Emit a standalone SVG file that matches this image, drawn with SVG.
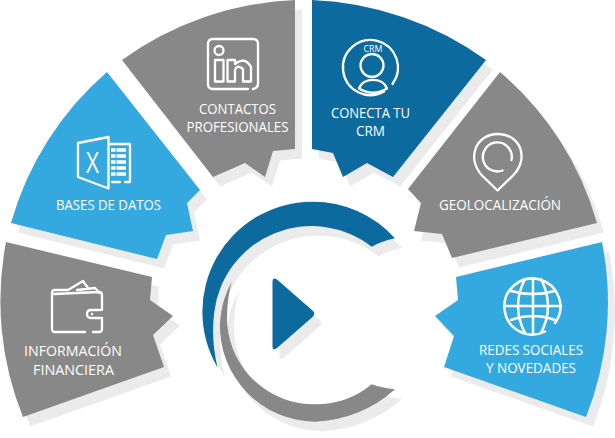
<svg xmlns="http://www.w3.org/2000/svg" width="615" height="438" viewBox="0 0 615 438">
<style>
.t{font-family:"Open Sans","Liberation Sans",sans-serif;font-size:15px;fill:#fff;text-anchor:middle}
.i{fill:none;stroke:#fff;stroke-width:2.300;stroke-linecap:round;stroke-linejoin:round}
.s{fill:#ebebeb}
.g{fill:#888888}.b{fill:#0c6a9e}.l{fill:#34a9df}
</style>
<defs>
<path id="p1" d="M6 242L152 277L150 300L173 316L153 335L164 367L23 417A310 310 0 0 1 6 242Z"/>
<path id="p2" d="M107 72L200 190L187 203L193 231L166 235L157 259L11 223A310 310 0 0 1 107 72Z"/>
<path id="p3" d="M122 60A320 320 0 0 1 295 0L295 149L273 151L265 177L245 163L213 177Z"/>
<path id="p4" d="M312 0A320 320 0 0 1 486 60L393 177L367 163L343 177L333 153L312 149Z"/>
<path id="p5" d="M500 72A310 310 0 0 1 597 223L452 258L442 234L414 231L421 203L408 189Z"/>
<path id="p6" d="M602 242A310 310 0 0 1 586 417L444 367L454 336L435 316L458 300L456 277Z"/>
<path id="ringb" d="M395 238.300A110 110 0 0 0 311.700 201.700A110 110 0 0 0 217.700 367.700A150 150 0 0 1 214.300 311.700A98 98 0 0 1 371.700 246.700Q382 241 395 238.300Z"/>
<path id="ringg" d="M231.700 281.700A96 96 0 0 0 220 322A96 96 0 0 0 315 421.700A125 125 0 0 0 395 389.300Q382 388 371.700 384.300A87 87 0 0 1 315 404.300A87 87 0 0 1 227.300 325Q226 303 231.700 281.700Z"/>
<path id="tri" d="M272.500 282Q272.500 276.500 277 279.500L312.500 310.500Q316 313.500 312.500 317L277 348Q272.500 351.500 272.500 346Z"/>
</defs>
<g id="connectors"/>
<g id="shadows" class="s">
<use href="#p1" x="7" y="9.500"/><use href="#p2" x="7" y="9.500"/><use href="#p3" x="7" y="9.500"/><use href="#p4" x="7" y="9.500"/><use href="#p5" x="7" y="9.500"/><use href="#p6" x="7" y="9.500"/>
<use href="#ringb" x="7" y="9.500"/><use href="#ringg" x="7" y="9.500"/><use href="#tri" x="7" y="9.500"/>
</g>
<g id="center">
<use href="#ringg" class="g"/><use href="#ringb" class="b"/><use href="#tri" class="b"/>
</g>
<g id="informacion">
<use href="#p1" class="g"/>
<g class="i"><path d="M52 296V329Q52 332 55 332H85M93 332H99Q102 332 102 329V318M102 310V295Q102 292 99 292L54 294M52 296V293Q52 290 55 290H68"/><path d="M68 290L83 281L88 288M77 290L95 288L100 293"/><path d="M100 310H91Q87 310 87 314Q87 318 91 318H100"/></g>
<circle cx="92" cy="314" r="1.200" fill="#fff"/>
<text class="t" x="73" y="355.700" textLength="98" lengthAdjust="spacingAndGlyphs">INFORMACIÓN</text><text class="t" x="73.500" y="374.700" textLength="81" lengthAdjust="spacingAndGlyphs">FINANCIERA</text>
</g>
<g id="bases">
<use href="#p2" class="l"/>
<g class="i"><path d="M108.500 137L78 143V177L108.500 188.500Z"/><path d="M109 144H130V182H125M120 182H112"/></g>
<path d="M111 150H126M111 156H126M111 162H126M111 168H126M111 174H126" stroke="#fff" stroke-width="3.600" fill="none"/>
<path d="M116 148V176" stroke="#34a9df" stroke-width="1" fill="none"/>
<text class="t" x="92.500" y="173" style="font-size:29px" textLength="13" lengthAdjust="spacingAndGlyphs">X</text>
<text class="t" x="108.500" y="210" textLength="105" lengthAdjust="spacingAndGlyphs">BASES DE DATOS</text>
</g>
<g id="contactos">
<use href="#p3" class="g"/>
<g class="i"><path d="M248 89H213Q208 89 208 84V44Q208 39 213 39H253Q258 39 258 44V84Q258 88 253 89"/><circle cx="219" cy="50.500" r="4.500"/><path d="M215 60H223.500V81.500H215ZM227.500 60H235V64Q245 56 251 67V81.500H243V69Q237 64 235 70V81.500H227.500Z"/></g>
<text class="t" x="237.500" y="113.500" textLength="77" lengthAdjust="spacingAndGlyphs">CONTACTOS</text><text class="t" x="237.500" y="132" textLength="102" lengthAdjust="spacingAndGlyphs">PROFESIONALES</text>
</g>
<g id="conecta">
<use href="#p4" class="b"/>
<g class="i"><path d="M392.500 84A27.500 27.500 0 1 0 384 91.500"/><circle cx="372" cy="65.500" r="11.500"/><path d="M359 88.500C363 77 383 77 387 88.500Q373 97 359 88.500Z"/></g>
<text class="t" x="370.500" y="117.700" textLength="79" lengthAdjust="spacingAndGlyphs">CONECTA TU</text><text class="t" x="370.500" y="136" textLength="29" lengthAdjust="spacingAndGlyphs">CRM</text>
<text class="t" x="373" y="52" style="font-size:9.500px" textLength="19" lengthAdjust="spacingAndGlyphs">CRM</text>
</g>
<g id="geolocalizacion">
<use href="#p5" class="g"/>
<g class="i"><path d="M497.500 190.500L482 175.500C466 158 476 134 498 134C520 134 530 158 513 175.500Z"/><path d="M511.500 160A14.500 14.500 0 1 0 502.500 170.500"/></g>
<text class="t" x="500" y="210" textLength="122" lengthAdjust="spacingAndGlyphs">GEOLOCALIZACIÓN</text>
</g>
<g id="redes">
<use href="#p6" class="l"/>
<g class="i" style="stroke-width:2.500"><path d="M555 323A28 28 0 1 0 545 331.500"/><path d="M533 278V334M505 306H561M511 291Q533 297 555 291M511 320Q533 312 555 320M525 279Q511 306 525 333M541 279Q555 306 541 333"/></g>
<text class="t" x="531" y="354.700" textLength="104" lengthAdjust="spacingAndGlyphs">REDES SOCIALES</text><text class="t" x="531" y="373" textLength="90" lengthAdjust="spacingAndGlyphs">Y NOVEDADES</text>
</g>
</svg>
